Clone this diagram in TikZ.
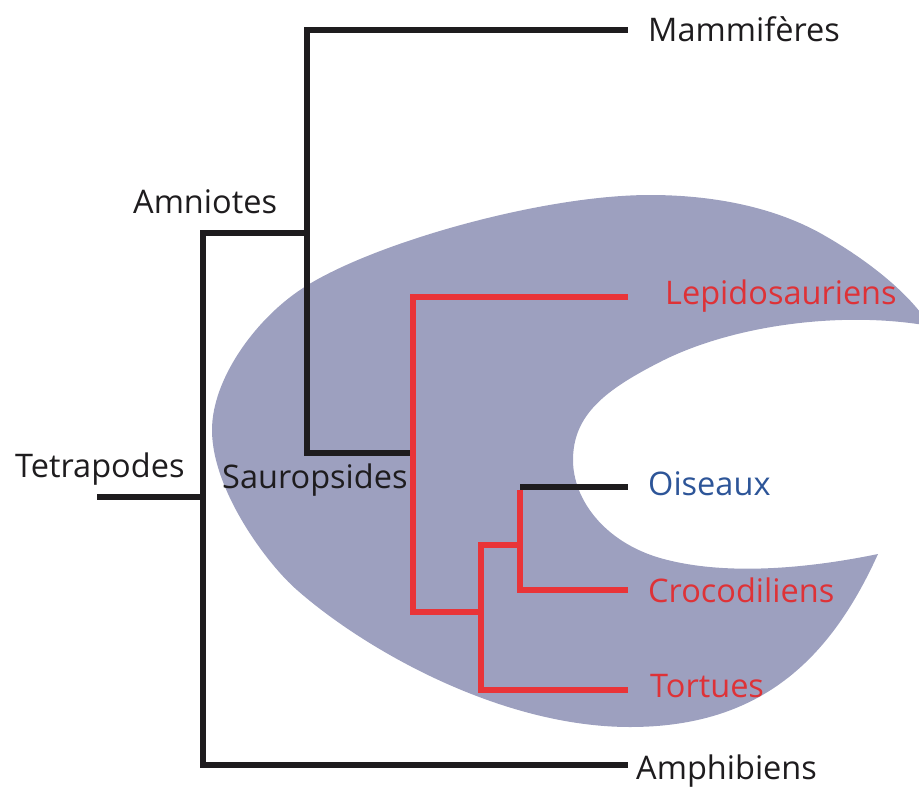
\documentclass[tikz,border=0pt]{standalone}
\usepackage{fontspec}
\setmainfont{Open Sans}
\definecolor{blobc}{RGB}{157,160,191}
\definecolor{treered}{RGB}{233,52,56}
\definecolor{txtred}{RGB}{222,50,55}
\definecolor{txtblue}{RGB}{45,85,152}
\definecolor{ink}{RGB}{30,28,30}
\begin{document}
\begin{tikzpicture}[x=1pt,y=-1pt,
  blk/.style={draw=ink,line width=6.5pt},
  rd/.style={draw=treered,line width=6.8pt},
  lbl/.style={anchor=base west,inner sep=0pt,font=\fontsize{32.5}{38}\selectfont,text=ink},
  redlbl/.style={lbl,text=txtred},
  bluelbl/.style={lbl,text=txtblue}]
\useasboundingbox (0,0) rectangle (919,787);
\clip (0,0) rectangle (919,787);
% blob (crescent)
\fill[blobc] (930,326)
  .. controls (905,286) and (853,252) .. (827,237)
  .. controls (775,206) and (710,195) .. (650,195)
  .. controls (540,195) and (366,245) .. (300,290)
  .. controls (254,321) and (212,380) .. (212,430)
  .. controls (212,490) and (267,564) .. (297,590)
  .. controls (364,649) and (500,727) .. (630,727)
  .. controls (760,727) and (830,660) .. (878,554)
  .. controls (820,566) and (730,578) .. (660,558)
  .. controls (605,542) and (573,500) .. (573,460)
  .. controls (573,415) and (605,390) .. (660,362)
  .. controls (730,326) and (840,310) .. (930,326) -- cycle;
% coordinates of the tree
\coordinate (stem) at (97,497);
\coordinate (root) at (203,497);
\coordinate (amn) at (307,233);
\coordinate (saur) at (413,453);
\coordinate (t1) at (481,612);
\coordinate (t2) at (520,545);
\coordinate (oj) at (520,487);
\coordinate (mamE) at (628,30);
\coordinate (ampE) at (628,765);
\coordinate (lepE) at (628,297);
\coordinate (oisE) at (628,487);
\coordinate (croE) at (628,590);
\coordinate (torE) at (628,690);
% black branches
\draw[blk] (stem) -- (root);
\draw[blk] (root) |- (amn);
\draw[blk] (root) |- (ampE);
\draw[blk] (amn) |- (mamE);
\draw[blk] (amn) |- (saur);
\draw[blk] (oj) -- (oisE);
% red branches
\draw[rd] (saur) |- (lepE);
\draw[rd] (saur) |- (t1);
\draw[rd] (t1) |- (torE);
\draw[rd] (t1) |- (t2);
\draw[rd] (t2) |- (croE);
\draw[rd] (t2) -- ([yshift=-3pt]oj);
% labels
\node[lbl] (mam) at (648,41) {Mammifères};
\node[lbl] (amnl) at (133,213) {Amniotes};
\node[lbl] (tet) at (15,477) {Tetrapodes};
\node[lbl] (sau) at (222,488) {Sauropsides};
\node[lbl] (amp) at (636,779) {Amphibiens};
\node[redlbl] (lep) at (665,304) {Lepidosauriens};
\node[bluelbl] (ois) at (648,495) {Oiseaux};
\node[redlbl] (cro) at (648,602) {Crocodiliens};
\node[redlbl] (tor) at (650,697) {Tortues};
\end{tikzpicture}
\end{document}
